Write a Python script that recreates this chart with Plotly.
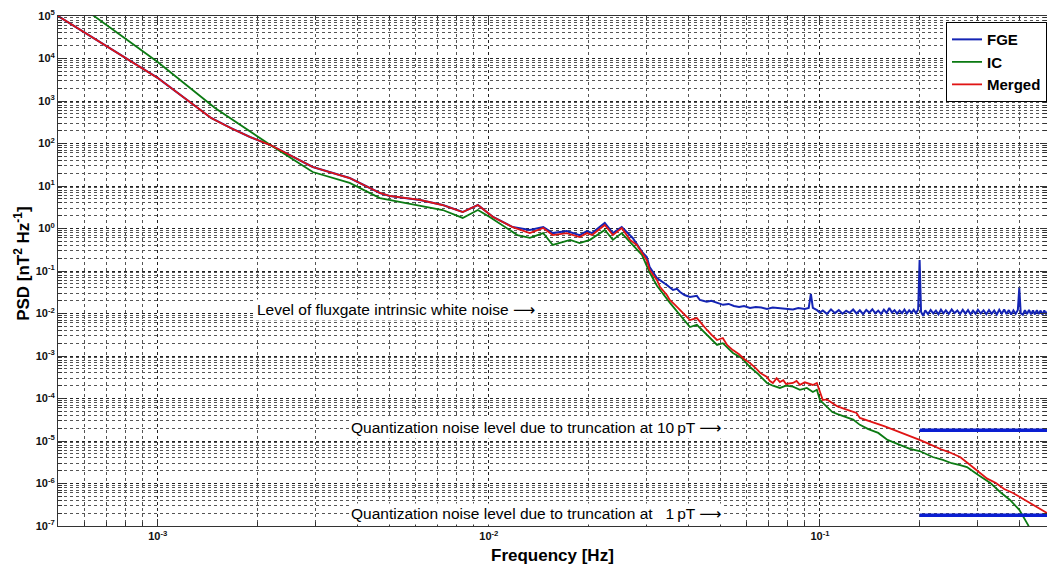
import math
import plotly.graph_objects as go

# ---------------- data ----------------
freq_fge = [5.0e-4, 1.0e-3, 1.45e-3, 1.66e-3, 1.90e-3, 2.19e-3, 2.94e-3, 3.80e-3, 4.69e-3, 5.02e-3,
            6.19e-3, 7.26e-3, 8.34e-3, 9.27e-3, 1.03e-2, 1.18e-2, 1.33e-2, 1.46e-2, 1.56e-2, 1.72e-2,
            1.88e-2, 1.98e-2, 2.05e-2, 2.24e-2, 2.37e-2, 2.52e-2, 2.72e-2, 2.92e-2, 3.00e-2, 3.06e-2,
            3.22e-2, 3.29e-2, 3.45e-2, 3.60e-2, 3.70e-2, 3.78e-2, 3.90e-2, 4.05e-2, 4.25e-2, 4.34e-2,
            4.55e-2, 4.70e-2, 4.90e-2, 5.10e-2, 5.30e-2, 5.50e-2, 5.70e-2, 5.90e-2, 6.15e-2, 6.40e-2,
            6.65e-2, 6.92e-2, 7.20e-2, 7.57e-2, 7.90e-2, 8.29e-2, 8.60e-2, 9.00e-2, 9.25e-2, 9.39e-2,
            9.52e-2, 9.80e-2, 0.100]
psd_fge = [1.0e5, 3.5e3, 398, 232, 142, 92, 28, 15.4, 6.85, 5.82,
           4.69, 3.57, 2.44, 3.57, 1.87, 1.08, 0.92, 1.08, 0.78, 0.87,
           0.70, 0.87, 0.78, 1.35, 0.78, 1.08, 0.60, 0.265, 0.213, 0.124,
           0.068, 0.061, 0.047, 0.0357, 0.0380, 0.032, 0.0272, 0.0244, 0.026, 0.0208,
           0.019, 0.020, 0.0175, 0.016, 0.0168, 0.015, 0.0142, 0.0150, 0.0135, 0.0142,
           0.0138, 0.0128, 0.0138, 0.0135, 0.0128, 0.0125, 0.0135, 0.0128, 0.0135, 0.0290,
           0.0135, 0.0120, 0.0105]

freq_fge_hf = [0.102, 0.105, 0.108, 0.111, 0.114, 0.117, 0.120, 0.123, 0.126, 0.129,
               0.132, 0.135, 0.138, 0.141, 0.144, 0.147, 0.150, 0.153, 0.156, 0.159,
               0.162, 0.165, 0.168, 0.171, 0.174, 0.177, 0.180, 0.183, 0.186, 0.189,
               0.192, 0.195, 0.198, 0.200, 0.202, 0.205, 0.208, 0.212, 0.216, 0.220,
               0.224, 0.228, 0.232, 0.236, 0.240, 0.245, 0.250, 0.255, 0.260, 0.265,
               0.270, 0.275, 0.280, 0.285, 0.290, 0.295, 0.300, 0.306, 0.312, 0.318,
               0.324, 0.330, 0.336, 0.342, 0.348, 0.354, 0.360, 0.366, 0.372, 0.378,
               0.384, 0.390, 0.396, 0.400, 0.404, 0.410, 0.416, 0.422, 0.428, 0.434,
               0.440, 0.446, 0.452, 0.458, 0.464, 0.470, 0.476, 0.482, 0.488]
psd_fge_hf = [0.0118, 0.0098, 0.0125, 0.0102, 0.0120, 0.0099, 0.0116, 0.0104, 0.0124, 0.0100,
              0.0119, 0.0097, 0.0121, 0.0105, 0.0126, 0.0101, 0.0117, 0.0098, 0.0123, 0.0103,
              0.0135, 0.0106, 0.0120, 0.0099, 0.0118, 0.0102, 0.0124, 0.0100, 0.0119, 0.0104,
              0.0122, 0.0101, 0.0125, 0.180, 0.0110, 0.0088, 0.0118, 0.0097, 0.0121, 0.0100,
              0.0117, 0.0096, 0.0123, 0.0101, 0.0119, 0.0098, 0.0124, 0.0102, 0.0118, 0.0097,
              0.0122, 0.0100, 0.0120, 0.0096, 0.0117, 0.0099, 0.0123, 0.0100, 0.0119, 0.0096,
              0.0121, 0.0098, 0.0118, 0.0095, 0.0122, 0.0099, 0.0124, 0.0097, 0.0120, 0.0095,
              0.0118, 0.0098, 0.0121, 0.0400, 0.0102, 0.0094, 0.0119, 0.0097, 0.0122, 0.0096,
              0.0118, 0.0095, 0.0120, 0.0097, 0.0117, 0.0094, 0.0119, 0.0096, 0.0115]

freq_ic = [5.0e-4, 6.37e-4, 1.0e-3, 1.49e-3, 1.90e-3, 2.19e-3, 2.94e-3, 3.80e-3, 4.69e-3, 5.02e-3,
           6.19e-3, 7.26e-3, 8.34e-3, 9.27e-3, 1.006e-2, 1.22e-2, 1.33e-2, 1.46e-2, 1.56e-2, 1.76e-2,
           1.88e-2, 2.02e-2, 2.24e-2, 2.37e-2, 2.52e-2, 2.72e-2, 2.90e-2, 3.06e-2, 3.22e-2, 3.52e-2,
           3.78e-2, 4.05e-2, 4.25e-2, 4.56e-2, 4.89e-2, 5.09e-2, 5.46e-2, 5.80e-2, 6.15e-2, 6.50e-2,
           6.92e-2, 7.21e-2, 7.57e-2, 7.90e-2, 8.29e-2, 8.70e-2, 9.13e-2, 9.52e-2, 9.79e-2, 0.100,
           0.105, 0.109, 0.113, 0.120, 0.126, 0.132, 0.140, 0.150, 0.160, 0.175,
           0.187, 0.200, 0.219, 0.235, 0.250, 0.265, 0.278, 0.300, 0.327, 0.350,
           0.375, 0.400, 0.425, 0.447]
psd_ic = [4.1e5, 1.05e5, 8.3e3, 684, 187, 92, 21.3, 11.8, 5.2, 4.69,
          3.38, 2.72, 1.77, 2.72, 1.87, 0.70, 0.60, 0.78, 0.41, 0.54,
          0.456, 0.54, 0.92, 0.54, 0.78, 0.41, 0.24, 0.092, 0.045, 0.018,
          0.0092, 0.0048, 0.0054, 0.0031, 0.00182, 0.0020, 0.00118, 0.00090, 0.00055, 0.00038,
          2.32e-4, 2.0e-4, 1.77e-4, 2.0e-4, 1.9e-4, 1.6e-4, 1.77e-4, 1.42e-4, 1.6e-4, 9.2e-5,
          6.3e-5, 4.8e-5, 4.3e-5, 3.7e-5, 3.2e-5, 2.4e-5, 1.9e-5, 1.55e-5, 1.06e-5, 8.0e-6,
          6.5e-6, 5.8e-6, 4.2e-6, 3.6e-6, 3.0e-6, 2.7e-6, 2.44e-6, 1.6e-6, 1.03e-6, 6.3e-7,
          4.1e-7, 2.4e-7, 1.06e-7, 4.7e-8]

freq_merged = [5.0e-4, 1.0e-3, 1.45e-3, 1.66e-3, 1.90e-3, 2.19e-3, 2.94e-3, 3.80e-3, 4.69e-3, 5.02e-3,
               6.19e-3, 7.26e-3, 8.34e-3, 9.27e-3, 1.03e-2, 1.18e-2, 1.33e-2, 1.46e-2, 1.56e-2, 1.72e-2,
               1.88e-2, 1.98e-2, 2.05e-2, 2.24e-2, 2.37e-2, 2.52e-2, 2.67e-2, 2.80e-2, 3.00e-2, 3.06e-2,
               3.22e-2, 3.29e-2, 3.45e-2, 3.52e-2, 3.65e-2, 3.78e-2, 3.90e-2, 4.05e-2, 4.25e-2, 4.40e-2,
               4.56e-2, 4.70e-2, 4.89e-2, 5.09e-2, 5.25e-2, 5.46e-2, 5.70e-2, 5.90e-2, 6.15e-2, 6.40e-2,
               6.60e-2, 6.92e-2, 7.05e-2, 7.21e-2, 7.40e-2, 7.57e-2, 7.75e-2, 7.90e-2, 8.29e-2, 8.50e-2,
               8.70e-2, 9.00e-2, 9.52e-2, 9.79e-2, 0.100, 0.102, 0.105, 0.109, 0.113, 0.118,
               0.124, 0.129, 0.132, 0.137, 0.143, 0.150, 0.157, 0.165, 0.175, 0.183,
               0.190, 0.200, 0.210, 0.220, 0.232, 0.245, 0.265, 0.280, 0.300, 0.320,
               0.340, 0.360, 0.383, 0.410, 0.440, 0.460, 0.485]
psd_merged = [1.0e5, 3.5e3, 398, 232, 142, 92, 28, 15.4, 6.85, 5.82,
              4.69, 3.57, 2.44, 3.57, 1.87, 1.08, 0.78, 1.03, 0.70, 0.78,
              0.63, 0.78, 0.70, 1.21, 0.70, 1.03, 0.54, 0.41, 0.18, 0.106,
              0.061, 0.042, 0.0272, 0.0208, 0.016, 0.0121, 0.0098, 0.0070, 0.0078, 0.0055,
              0.0041, 0.0032, 0.00238, 0.00265, 0.0018, 0.00138, 0.0011, 0.00085, 0.00068, 0.00052,
              0.00040, 0.00032, 0.00026, 2.32e-4, 3.0e-4, 2.44e-4, 2.7e-4, 2.2e-4, 2.32e-4, 2.6e-4,
              2.1e-4, 2.4e-4, 2.08e-4, 2.32e-4, 1.35e-4, 9.2e-5, 9.5e-5, 7.8e-5, 6.5e-5, 5.8e-5,
              5.0e-5, 4.56e-5, 3.5e-5, 3.2e-5, 2.9e-5, 2.5e-5, 2.2e-5, 1.9e-5, 1.63e-5, 1.4e-5,
              1.25e-5, 1.06e-5, 9.0e-6, 7.6e-6, 6.4e-6, 5.5e-6, 4.2e-6, 3.0e-6, 1.9e-6, 1.3e-6,
              1.03e-6, 7.4e-7, 5.97e-7, 4.4e-7, 3.1e-7, 2.6e-7, 2.02e-7]

quant_freq = [0.2, 0.49]
quant_10pt = [1.8e-5, 1.8e-5]
quant_1pt = [1.8e-7, 1.8e-7]

x_tick_vals = [1e-3, 1e-2, 1e-1]
x_tick_text = ["10<sup>-3</sup>", "10<sup>-2</sup>", "10<sup>-1</sup>"]
y_exponents = list(range(-7, 6))
y_tick_vals = [10.0 ** k for k in y_exponents]
y_tick_text = ["10<sup>%d</sup>" % k for k in y_exponents]

# minor tick / grid positions (2..9 within each decade)
x_minor = [m * 10.0 ** d for d in range(-4, 0) for m in range(2, 10)]
y_minor = [m * 10.0 ** d for d in range(-7, 5) for m in range(2, 10)]

C_FGE = "#1424b4"
C_IC = "#0b7a12"
C_MERGED = "#e01414"
C_QUANT = "#0a1ed2"

fig = go.Figure()
fig.add_trace(go.Scatter(x=freq_fge + freq_fge_hf, y=psd_fge + psd_fge_hf, mode="lines",
                         name="FGE", line=dict(color=C_FGE, width=2)))
fig.add_trace(go.Scatter(x=freq_ic, y=psd_ic, mode="lines", name="IC",
                         line=dict(color=C_IC, width=1.8)))
fig.add_trace(go.Scatter(x=freq_merged, y=psd_merged, mode="lines", name="Merged",
                         line=dict(color=C_MERGED, width=1.8)))
fig.add_trace(go.Scatter(x=quant_freq, y=quant_10pt, mode="lines", showlegend=False,
                         line=dict(color=C_QUANT, width=3.5)))
fig.add_trace(go.Scatter(x=quant_freq, y=quant_1pt, mode="lines", showlegend=False,
                         line=dict(color=C_QUANT, width=3.5)))

FONT = "Liberation Sans, Arial, sans-serif"
grid_major = dict(showgrid=True, gridcolor="#222222", griddash="dot", gridwidth=1)
minor_common = dict(ticks="inside", ticklen=4, tickcolor="#333", showgrid=True,
                    gridcolor="#555555", griddash="dot", gridwidth=1)

fig.update_xaxes(type="log", range=[math.log10(5e-4), math.log10(0.485)],
                 tickmode="array", tickvals=x_tick_vals, ticktext=x_tick_text,
                 ticks="inside", ticklen=7, tickcolor="#333", showline=True, linecolor="#333",
                 linewidth=1, mirror="allticks", zeroline=False,
                 tickfont=dict(family=FONT, size=11, color="#111", weight="bold"),
                 minor=dict(tickmode="array", tickvals=x_minor, **minor_common),
                 **grid_major)
fig.update_yaxes(type="log", range=[-7, 5],
                 tickmode="array", tickvals=y_tick_vals, ticktext=y_tick_text,
                 ticks="inside", ticklen=7, tickcolor="#333", showline=True, linecolor="#333",
                 linewidth=1, mirror="allticks", zeroline=False,
                 tickfont=dict(family=FONT, size=11, color="#111", weight="bold"),
                 minor=dict(tickmode="array", tickvals=y_minor, **minor_common),
                 **grid_major)

ARROW = '<span style="font-family:DejaVu Sans">\u27f6</span>'
note_font = dict(family=FONT, size=15.5, color="#000")
fig.update_layout(
    width=1047, height=568,
    margin=dict(l=58, r=0, t=16, b=42),
    paper_bgcolor="white", plot_bgcolor="white",
    font=dict(family=FONT, color="#000"),
    showlegend=True,
    legend=dict(x=1, xanchor="right", y=0.988, yanchor="top",
                bgcolor="white", bordercolor="#000", borderwidth=1,
                font=dict(family=FONT, size=15, color="#000", weight="bold"),
                itemwidth=30, tracegroupgap=0),
    annotations=[
        dict(text="PSD [nT<sup>2</sup> Hz<sup>-1</sup>]", xref="paper", yref="paper",
             x=-0.0364, y=0.514, xanchor="center", yanchor="middle", textangle=-90,
             showarrow=False, font=dict(family=FONT, size=17, color="#000", weight="bold")),
        dict(text="Frequency [Hz]", xref="paper", yref="paper", x=0.5, y=-0.057,
             xanchor="center", yanchor="middle", showarrow=False,
             font=dict(family=FONT, size=17, color="#000", weight="bold")),
        dict(text="Level of fluxgate intrinsic white noise " + ARROW, xref="x", yref="y",
             x=math.log10(0.0140), y=math.log10(0.0118), xanchor="right", yanchor="middle",
             showarrow=False, bgcolor="white", borderpad=1, font=note_font),
        dict(text="Quantization noise level due to truncation at 10\u2009pT " + ARROW, xref="x", yref="y",
             x=math.log10(0.0512), y=math.log10(2.0e-5), xanchor="right", yanchor="middle",
             showarrow=False, bgcolor="white", borderpad=1, font=note_font),
        dict(text="Quantization noise level due to truncation at \u20071\u2009pT " + ARROW, xref="x", yref="y",
             x=math.log10(0.0512), y=math.log10(1.95e-7), xanchor="right", yanchor="middle",
             showarrow=False, bgcolor="white", borderpad=1, font=note_font),
    ],
)

fig.write_html("out.html", config={"displayModeBar": False},
               post_script="document.body.style.margin='0';document.body.style.overflow='hidden';")
